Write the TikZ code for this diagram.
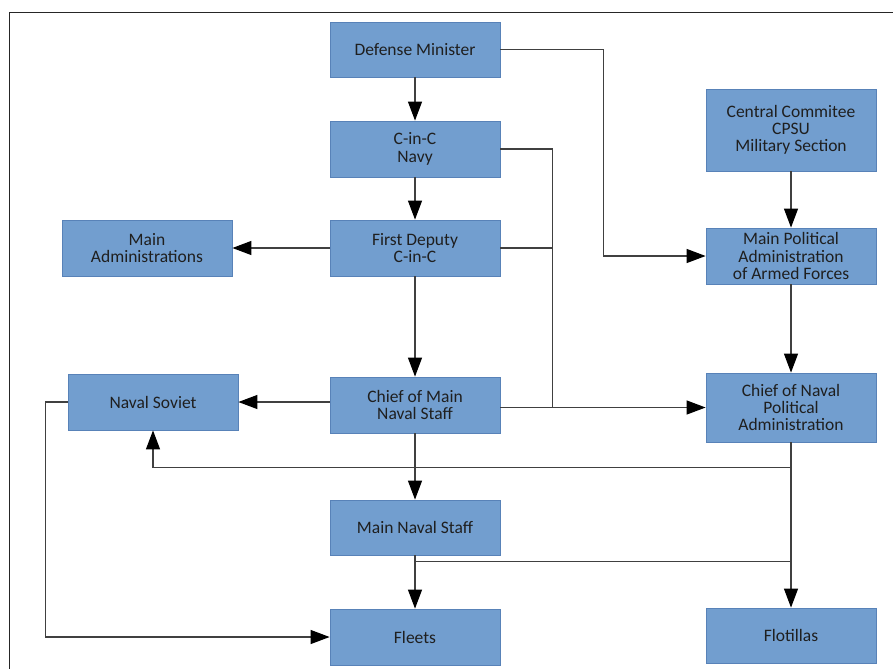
\documentclass[tikz,border=0pt]{standalone}
\usepackage{fontspec}
\setmainfont{Carlito}
\usepackage{tikz}
\usetikzlibrary{arrows.meta,positioning,calc}
\definecolor{boxfill}{RGB}{114,158,207}
\definecolor{boxline}{RGB}{88,130,184}
\definecolor{wire}{RGB}{64,64,64}

\begin{document}
\begin{tikzpicture}[x=1pt,y=-1pt,->,>={Triangle[length=19pt,width=14pt,color=black]},line width=1.2pt,draw=wire,main node/.style={draw=boxline,fill=boxfill,line width=0.8pt,rectangle,minimum width=170pt,minimum height=56pt,inner sep=0pt,align=center,font=\fontsize{17.5}{17.3}\selectfont,text=black!88}]
			\useasboundingbox (0,0) rectangle (893,669);
			\draw[-,black!85] (893,12.3) -- (9.3,12.3) -- (9.3,669);
			
			\node[main node, minimum height=55pt] (1) at (415,49.5) {Defense Minister};
			\node[main node] (2) at (415,149) {C-in-C\\Navy};
			\node[main node] (3) at (415,248) {First Deputy\\C-in-C};
			\node[main node] (4) at (147,248) {Main\\Administrations};
			\node[main node] (5) at (415,405) {Chief of Main\\Naval Staff};
			\node[main node] (6) at (153,402) {Naval Soviet};
			\node[main node, minimum height=55pt] (7) at (415,527.5) {Main Naval Staff};
			\node[main node] (8) at (415,637) {Fleets};
			
			\node[main node, minimum height=82pt] (9) at (791,130) {Central Commitee\\CPSU\\Military Section};
			\node[main node] (10) at (791,256) {Main Political\\Administration\\of Armed Forces};
			\node[main node, minimum height=69pt] (11) at (791,407.5) {Chief of Naval\\Political\\Administration};
			\node[main node, minimum height=55pt] (12) at (791,635.5) {Flotillas};
			
			\draw (1) -- (2);
			\draw (2) -- (3);
			\draw (3) -- (4);
			\draw (3) -- (5);
			\draw (5.west |- 6.east) -- (6.east);
			\draw (5) -- (7);
			\draw (7) -- (8);
			\draw (9) -- (10);
			\draw (10) -- (11);
			\draw (11) -- (12);
			
			\draw (1.east) -- ++(103,0) |- (10.west);
			\draw (2.east) -- ++(52,0) |- (11.west);
			\draw[-] (3.east) -- ++(52,0);
			\draw[-] (5.east |- 11.west) -- ++(52,0);
			\draw (11.south) -- ++(0,25) -| (6.south);
			\draw[-] ($(7.south)+(0,6)$) -- ($(12.north |- 7.south)+(0,6)$);
			\draw (6.west) -- ++(-22,0) |- (8.west);
			
\end{tikzpicture}
\end{document}
